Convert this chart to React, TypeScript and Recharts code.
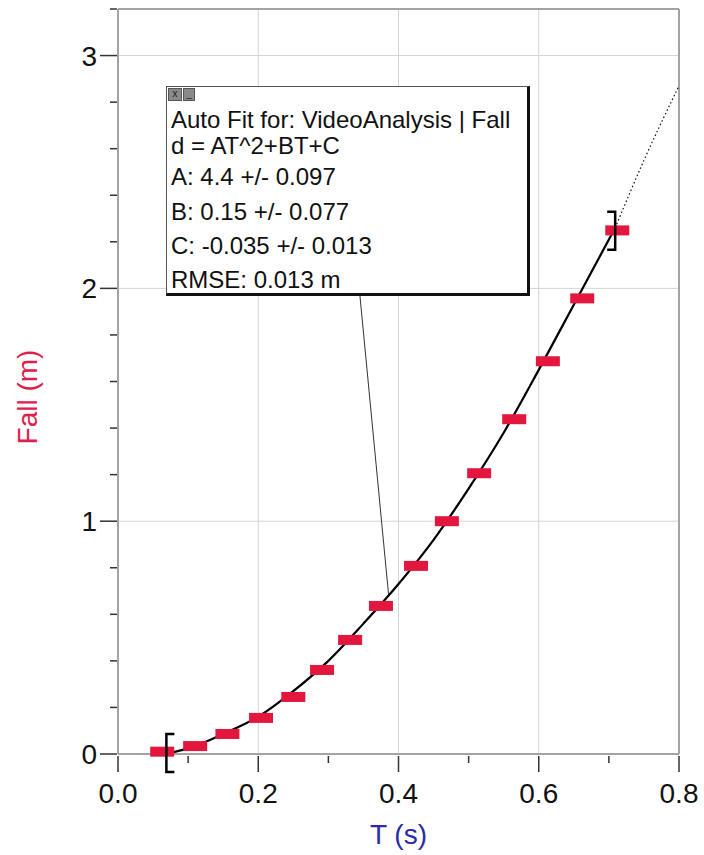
import { ComposedChart, XAxis, YAxis, CartesianGrid, Scatter, Line, ReferenceLine, Label } from 'recharts'

// measured frames: time (s) and fall (m)
const pointT = [0.063, 0.11, 0.156, 0.204, 0.25, 0.291, 0.331, 0.375, 0.425, 0.469, 0.515, 0.565, 0.613, 0.662, 0.712]
const pointFall = [0.01, 0.034, 0.086, 0.155, 0.245, 0.361, 0.49, 0.636, 0.808, 1.0, 1.206, 1.438, 1.687, 1.957, 2.249]

// fitted curve (solid part, then dotted extension)
const fitT = [0.074, 0.1, 0.15, 0.2, 0.25, 0.3, 0.35, 0.4, 0.45, 0.5, 0.55, 0.6, 0.65, 0.709]
const fitFall = [0.004, 0.024, 0.086, 0.16, 0.27, 0.4, 0.56, 0.73, 0.92, 1.14, 1.38, 1.65, 1.93, 2.26]
const extT = [0.709, 0.75, 0.8]
const extFall = [2.26, 2.55, 2.87]

// fit range brackets
const bracketT = [0.069, 0.709]
const bracketFall = [0.004, 2.248]
const bracketSide = ['left', 'right']

const xTicks = [0, 0.1, 0.2, 0.3, 0.4, 0.5, 0.6, 0.7, 0.8]
const xLabelled = [0, 0.2, 0.4, 0.6, 0.8]
const yTicks = [0, 0.2, 0.4, 0.6, 0.8, 1, 1.2, 1.4, 1.6, 1.8, 2, 2.2, 2.4, 2.6, 2.8, 3, 3.2]
const yLabelled = [0, 1, 2, 3]
const xGrid = [0.2, 0.4, 0.6]
const yGrid = [1, 2, 3]

const fitLines = [
  'Auto Fit for: VideoAnalysis | Fall',
  'd = AT^2+BT+C',
  'A: 4.4 +/- 0.097',
  'B: 0.15 +/- 0.077',
  'C: -0.035 +/- 0.013',
  'RMSE: 0.013 m',
]
const fitLineTops = [20, 46, 77, 112, 146, 180]

const points = pointT.map((t, i) => ({ t, d: pointFall[i] }))
const fit = fitT.map((t, i) => ({ t, d: fitFall[i] }))
const ext = extT.map((t, i) => ({ t, d: extFall[i] }))
const brackets = bracketT.map((t, i) => ({ t, d: bracketFall[i], side: bracketSide[i] }))

const FONT = 'Arial, "Liberation Sans", sans-serif'
const AXIS = '#a3a3a3'

const isIn = (list: number[], v: number) => list.some((m) => Math.abs(m - v) < 1e-6)

const XTick = ({ x, y, payload }: any) => {
  const v = payload.value
  const major = isIn(xLabelled, v)
  return (
    <g>
      <line x1={x} x2={x} y1={y + 2} y2={y + (major ? 18 : 9)} stroke="#333" strokeWidth={1.5} />
      {major && (
        <text x={x} y={y + 49} textAnchor="middle" fontSize={28} fill="#111" fontFamily={FONT}>
          {v.toFixed(1)}
        </text>
      )}
    </g>
  )
}

const YTick = ({ x, y, payload }: any) => {
  const v = payload.value
  const major = isIn(yLabelled, v)
  return (
    <g>
      <line x1={x - (major ? 18 : 8)} x2={x - 1} y1={y} y2={y} stroke="#333" strokeWidth={1.5} />
      {major && (
        <text x={x - 21} y={y + 10} textAnchor="end" fontSize={28} fill="#111" fontFamily={FONT}>
          {v}
        </text>
      )}
    </g>
  )
}

const RedRect = ({ cx, cy }: any) => <rect x={cx - 12} y={cy - 5} width={24} height={10} fill="#e3173e" />

const Bracket = ({ cx, cy, payload }: any) => {
  const dir = payload.side === 'left' ? 1 : -1
  return (
    <path
      d={`M${cx + dir * 8},${cy - 19} H${cx} V${cy + 19} H${cx + dir * 8}`}
      fill="none"
      stroke="#000"
      strokeWidth={2.5}
    />
  )
}

export default function App() {
  return (
    <div style={{ position: 'absolute', left: 0, top: 0, width: 704, height: 855, background: '#fff', fontFamily: FONT }}>
      <ComposedChart width={704} height={855} margin={{ top: 9, right: 25, bottom: 0, left: 0 }}>
        <CartesianGrid stroke="#d4d4d4" strokeWidth={1} verticalValues={xGrid} horizontalValues={yGrid} />
        <XAxis
          type="number"
          dataKey="t"
          domain={[0, 0.8]}
          ticks={xTicks}
          interval={0}
          height={101}
          tickSize={0}
          tickMargin={0}
          tickLine={false}
          axisLine={{ stroke: AXIS, strokeWidth: 2 }}
          tick={<XTick />}
        >
          <Label
            content={({ viewBox }: any) => (
              <text
                x={viewBox.x + viewBox.width / 2}
                y={viewBox.y + 90}
                textAnchor="middle"
                fontSize={28}
                fill="#2b2bab"
                fontFamily={FONT}
              >
                T (s)
              </text>
            )}
          />
        </XAxis>
        <YAxis
          type="number"
          domain={[0, 3.2]}
          ticks={yTicks}
          interval={0}
          width={118}
          tickSize={0}
          tickMargin={0}
          tickLine={false}
          axisLine={{ stroke: AXIS, strokeWidth: 2 }}
          tick={<YTick />}
        >
          <Label
            content={() => (
              <text
                x={37}
                y={397}
                transform="rotate(-90 37 397)"
                textAnchor="middle"
                fontSize={28}
                fill="#e0204c"
                fontFamily={FONT}
              >
                Fall (m)
              </text>
            )}
          />
        </YAxis>
        <ReferenceLine x={0.8} stroke={AXIS} strokeWidth={2} />
        <ReferenceLine y={3.2} stroke={AXIS} strokeWidth={2} />
        <ReferenceLine
          segment={[{ x: 0.344, y: 2.0 }, { x: 0.386, y: 0.68 }]}
          stroke="#333"
          strokeWidth={1}
        />
        <Scatter data={points} dataKey="d" shape={<RedRect />} isAnimationActive={false} />
        <Line data={fit} dataKey="d" type="monotone" stroke="#000" strokeWidth={2.2} dot={false} activeDot={false} isAnimationActive={false} />
        <Line data={ext} dataKey="d" type="monotone" stroke="#111" strokeWidth={1.2} strokeDasharray="1.5 2.5" dot={false} activeDot={false} isAnimationActive={false} />
        <Scatter data={brackets} dataKey="d" shape={<Bracket />} isAnimationActive={false} />
      </ComposedChart>

      <div
        style={{
          position: 'absolute',
          left: 166,
          top: 86,
          width: 360,
          height: 206,
          background: '#fff',
          borderTop: '1px solid #555',
          borderLeft: '1px solid #555',
          borderRight: '3px solid #111',
          borderBottom: '3px solid #111',
          color: '#111',
          fontSize: 24,
        }}
      >
        <div style={{ position: 'absolute', left: 1, top: 1, width: 12, height: 11, background: '#8a8a8a', border: '1px solid #555', fontSize: 10, lineHeight: '10px', textAlign: 'center', color: '#222' }}>x</div>
        <div style={{ position: 'absolute', left: 16, top: 1, width: 10, height: 11, background: '#8a8a8a', border: '1px solid #555', fontSize: 10, lineHeight: '10px', textAlign: 'center', color: '#222' }}>_</div>
        {fitLines.map((s, i) => (
          <div key={s} style={{ position: 'absolute', left: 4, top: fitLineTops[i], lineHeight: '26px', whiteSpace: 'nowrap' }}>
            {s}
          </div>
        ))}
      </div>
    </div>
  )
}
